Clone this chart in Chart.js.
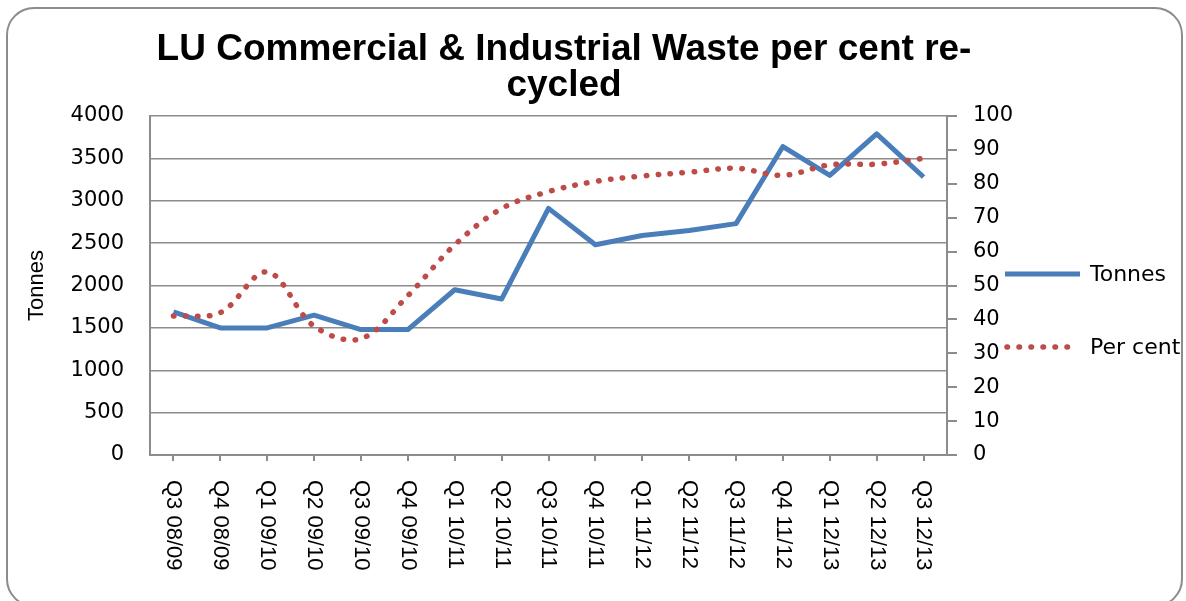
<!DOCTYPE html>
<html>
<head>
<meta charset="utf-8">
<title>LU Commercial &amp; Industrial Waste per cent recycled</title>
<script src="https://cdn.jsdelivr.net/npm/chart.js@4.4.0/dist/chart.umd.min.js"></script>
<style>
  body { margin: 0; background: #fff; }
  #wrap { position: relative; width: 1186px; height: 601px; overflow: hidden; }
  #frame { position: absolute; left: 6px; top: 7px; width: 1177px; height: 600px; border: 2px solid #8c8c8c; border-radius: 28px; box-sizing: border-box; }
  #wasteChart { position: absolute; left: 0; top: 0; }
</style>
</head>
<body>
<div id="wrap">
  <div id="frame"></div>
  <canvas id="wasteChart" width="1186" height="601"></canvas>
</div>
<script>
// quarters on the x axis
var quarters = ['Q3 08/09', 'Q4 08/09', 'Q1 09/10', 'Q2 09/10', 'Q3 09/10', 'Q4 09/10',
  'Q1 10/11', 'Q2 10/11', 'Q3 10/11', 'Q4 10/11', 'Q1 11/12', 'Q2 11/12', 'Q3 11/12',
  'Q4 11/12', 'Q1 12/13', 'Q2 12/13', 'Q3 12/13'];
// values
var tonnes = [1690, 1500, 1500, 1650, 1480, 1480, 1950, 1840, 2910, 2480, 2590, 2650, 2730, 3640, 3300, 3790, 3280];
var perCent = [41, 42, 54, 38, 34.3, 47, 62, 72.7, 77.7, 80.7, 82.3, 83.4, 84.6, 82.5, 85.6, 85.8, 87.5];
// axis tick labels
var tonnesTicks = [0, 500, 1000, 1500, 2000, 2500, 3000, 3500, 4000];
var percentTicks = [0, 10, 20, 30, 40, 50, 60, 70, 80, 90, 100];

var gridGrey = '#8c8c8c';

// x labels read top to bottom, chart.js only rotates the other way so draw them here
var quarterLabels = {
  id: 'quarterLabels',
  afterDraw: function(chart) {
    var ctx = chart.ctx;
    var xAxis = chart.scales.x;
    ctx.save();
    ctx.fillStyle = '#000';
    ctx.font = '22px "Liberation Sans", Arial, sans-serif';
    ctx.textAlign = 'left';
    ctx.textBaseline = 'middle';
    quarters.forEach(function(q, i) {
      ctx.save();
      ctx.translate(xAxis.getPixelForValue(i), xAxis.bottom + 19);
      ctx.rotate(Math.PI / 2);
      ctx.fillText(q, 0, 0);
      ctx.restore();
    });
    ctx.restore();
  }
};

// legend on the right, using each dataset's own line style
var sideLegend = {
  id: 'sideLegend',
  afterDraw: function(chart) {
    var ctx = chart.ctx;
    var rows = [274, 347];
    chart.data.datasets.forEach(function(ds, i) {
      ctx.save();
      ctx.strokeStyle = ds.borderColor;
      ctx.lineWidth = ds.borderWidth;
      ctx.lineCap = ds.borderCapStyle || 'butt';
      ctx.setLineDash(ds.borderDash || []);
      ctx.beginPath();
      if (ds.borderDash) {
        ctx.moveTo(1007, rows[i]);
        ctx.lineTo(1072, rows[i]);
      } else {
        ctx.moveTo(1005, rows[i]);
        ctx.lineTo(1080, rows[i]);
      }
      ctx.stroke();
      ctx.setLineDash([]);
      ctx.fillStyle = '#000';
      ctx.font = '22px "DejaVu Sans", Verdana, sans-serif';
      ctx.textBaseline = 'middle';
      ctx.fillText(ds.label, 1090, rows[i] + 1);
      ctx.restore();
    });
  }
};

function useTicks(list) {
  return function(axis) {
    axis.ticks = list.map(function(v) { return { value: v }; });
  };
}

function plainNumber(v) { return String(v); }

var ctx = document.getElementById('wasteChart').getContext('2d');
var chart = new Chart(ctx, {
  type: 'line',
  data: {
    labels: quarters,
    datasets: [{
      label: 'Tonnes',
      data: tonnes,
      yAxisID: 'y',
      borderColor: '#4a7ebb',
      borderWidth: 5,
      borderJoinStyle: 'round',
      tension: 0,
      pointRadius: 0,
      order: 1
    }, {
      label: 'Per cent',
      data: perCent,
      yAxisID: 'y1',
      borderColor: '#be4b48',
      borderWidth: 5.5,
      borderDash: [0.5, 11.5],
      borderCapStyle: 'round',
      tension: 0.35,
      pointRadius: 0,
      order: 0
    }]
  },
  options: {
    responsive: false,
    animation: false,
    layout: { padding: { left: 8, right: 66, top: 0, bottom: 140 } },
    plugins: {
      legend: { display: false },
      tooltip: { enabled: false },
      title: {
        display: true,
        text: ['LU Commercial & Industrial Waste per cent re-', 'cycled'],
        color: '#000',
        font: { family: '"Liberation Sans", Arial, sans-serif', size: 37, weight: 'bold', lineHeight: '36px' },
        padding: { top: 32, bottom: 12 }
      }
    },
    scales: {
      x: {
        offset: true,
        grid: { drawOnChartArea: false, drawTicks: true, tickLength: 6, color: gridGrey, lineWidth: 2 },
        border: { color: gridGrey, width: 2 },
        ticks: { display: false }
      },
      y: {
        position: 'left',
        min: 0,
        max: 4000,
        afterBuildTicks: useTicks(tonnesTicks),
        afterFit: function(axis) { axis.width = 142; },
        grid: { color: gridGrey, lineWidth: 1.5, drawTicks: false },
        border: { color: gridGrey, width: 2 },
        ticks: { color: '#000', padding: 26, callback: plainNumber, font: { family: '"DejaVu Sans", Verdana, sans-serif', size: 21 } },
        title: {
          display: true,
          text: 'Tonnes',
          color: '#000',
          font: { family: '"Liberation Sans", Arial, sans-serif', size: 22 },
          padding: { top: 16, bottom: 0 }
        }
      },
      y1: {
        position: 'right',
        min: 0,
        max: 100,
        afterBuildTicks: useTicks(percentTicks),
        afterFit: function(axis) { axis.width = 173; },
        grid: { drawOnChartArea: false, tickLength: 10, color: gridGrey, lineWidth: 2 },
        border: { color: gridGrey, width: 2 },
        ticks: { color: '#000', padding: 16, callback: plainNumber, font: { family: '"DejaVu Sans", Verdana, sans-serif', size: 21 } }
      }
    }
  },
  plugins: [quarterLabels, sideLegend]
});
</script>
</body>
</html>
